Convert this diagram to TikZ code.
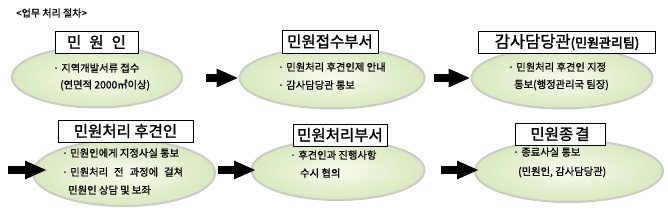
\documentclass[tikz,border=0pt]{standalone}
\usepackage{fontspec}
\setmainfont{Noto Sans CJK KR}
\newfontfamily\itemfont{Noto Sans CJK KR}[FakeBold=1]
\newfontfamily\boxfont{Noto Sans CJK KR}[FakeBold=1.5]
\newfontfamily\heavyfont{Noto Sans CJK KR}[FakeBold=3]
\usetikzlibrary{shapes.geometric,arrows.meta,calc}
\definecolor{elin}{RGB}{248,251,236}
\definecolor{elout}{RGB}{216,232,190}
\definecolor{elborder}{RGB}{200,202,196}
\tikzset{
  bubble/.style={ellipse, inner sep=0pt, draw=elborder, line width=2pt, inner color=elin, outer color=elout},
  titlebox/.style={draw=black, line width=0.9pt, fill=white, inner sep=0pt, font=\boxfont\fontsize{15.5}{15.5}\selectfont},
  item/.style={anchor=west, inner sep=0pt, font=\itemfont\fontsize{10.3}{10.3}\selectfont},
  bigarrow/.style={line width=8pt, -{Triangle[length=22pt,width=17pt]}}
}
\begin{document}
\begin{tikzpicture}[x=1pt,y=-1pt]
\useasboundingbox (0,0) rectangle (668,213);
\node[anchor=west, inner sep=0pt, font=\itemfont\fontsize{10}{10}\selectfont] (title) at (16,13) {<업무 처리 절차>};
% ellipses
\node[bubble, minimum width=170pt, minimum height=61pt] (e1) at (97,77) {};
\node[bubble, minimum width=185pt, minimum height=61pt] (e2) at (332,78) {};
\node[bubble, minimum width=181pt, minimum height=61pt] (e3) at (562,78) {};
\node[bubble, minimum width=182pt, minimum height=66pt] (e4) at (124,173) {};
\node[bubble, minimum width=173pt, minimum height=60pt] (e5) at (338,170) {};
\node[bubble, minimum width=188pt, minimum height=62pt] (e6) at (569,171) {};
% title boxes
\node[titlebox, minimum width=83pt, minimum height=22pt] (b1) at (96.5,42) {민\hspace{8pt}원\hspace{8pt}인};
\node[titlebox, minimum width=96pt, minimum height=23pt] (b2) at (330,41.5) {민원접수부서};
\node[titlebox, minimum width=177pt, minimum height=22pt] (b3) at (567,42) {{\fontsize{16.5}{16.5}\selectfont 감사담당관}{\heavyfont\fontsize{13}{13}\selectfont(민원관리팀)}};
\node[titlebox, minimum width=135pt, minimum height=22pt] (b4) at (125.5,131) {민원처리 후견인};
\node[titlebox, minimum width=94pt, minimum height=22pt] (b5) at (340,135) {민원처리부서};
\node[titlebox, minimum width=90pt, minimum height=22pt] (b6) at (560,134) {민원종\hspace{2pt}결};
% texts
\node[item] (t11) at (53,68) {· 지역개발서류 접수};
\node[item] (t12) at (60,85) {(연면적 2000㎡이상)};
\node[item] (t21) at (278,67) {· 민원처리 후견인제 안내};
\node[item] (t22) at (278,85) {· 감사담당관 통보};
\node[item] (t31) at (508,67) {· 민원처리 후견인 지정};
\node[item] (t32) at (514,85) {통보(행정관리국 팀장)};
\node[item] (t41) at (62,153) {· 민원인에게 지정사실 통보};
\node[item] (t42) at (62,172) {· 민원처리\hspace{6pt}전\hspace{6pt}과정에\hspace{6pt}걸쳐};
\node[item] (t43) at (68,190) {민원인 상담 및 보좌};
\node[item] (t51) at (290,155) {· 후견인과 진행사항};
\node[item] (t52) at (300,173) {수시 협의};
\node[item] (t61) at (513,152) {· 종료사실 통보};
\node[item] (t62) at (518,172) {(민원인, 감사담당관)};
% arrows
\coordinate (s4) at (8,170);
\draw[bigarrow] ($(e1.east)+(23,1)$) -- ($(e2.west)$);
\draw[bigarrow] ($(e2.east)+(8,0)$) -- ($(e3.west)$);
\draw[bigarrow] (s4) -- ($(e4.west)+(15,-3)$);
\draw[bigarrow] ($(e4.east)+(2,-3)$) -- ($(e5.west)+(5.5,0)$);
\draw[bigarrow] ($(e5.east)+(15.5,0)$) -- ($(e6.west)+(5,-1)$);
\end{tikzpicture}
\end{document}
